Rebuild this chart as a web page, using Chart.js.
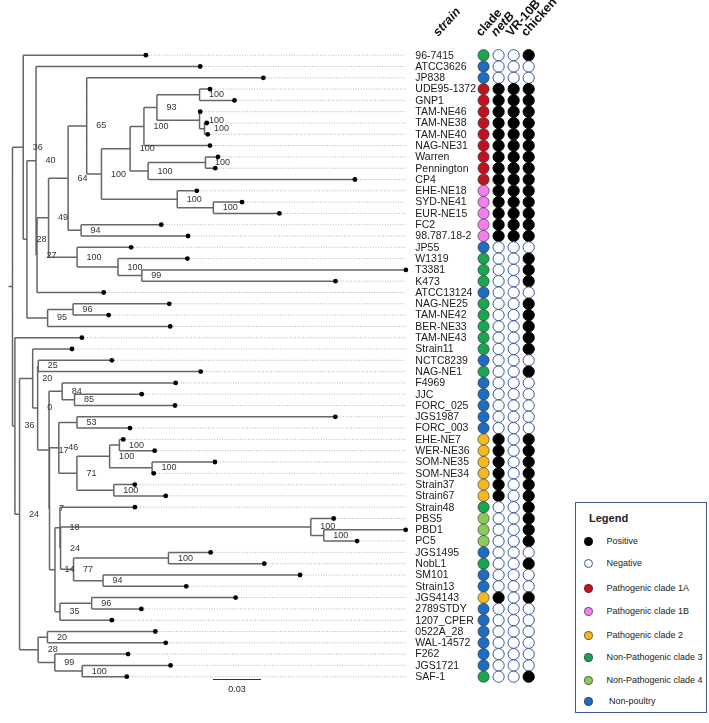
<!DOCTYPE html>
<html>
<head>
<meta charset="utf-8">
<script src="https://cdn.jsdelivr.net/npm/chart.js@4.4.1/dist/chart.umd.min.js"></script>
<style>
  html, body { margin:0; padding:0; background:#fff; }
  #wrap { position:relative; width:709px; height:723px; overflow:hidden; }
  #c { position:absolute; left:0; top:0; }
  #legend { position:absolute; left:575px; top:502px; width:132px; height:211px; box-sizing:border-box;
            border:1px solid #3c5b96; background:#fff; font-family:"Liberation Sans", Arial, sans-serif; color:#222; }
  #legend .title { position:absolute; left:13px; top:9px; font-size:11px; font-weight:bold; }
  #legend .dot { position:absolute; width:9px; height:9px; border-radius:50%; box-sizing:border-box; }
  #legend .txt { position:absolute; white-space:nowrap; font-size:9px; line-height:12px; }
</style>
</head>
<body>
<div id="wrap">
  <canvas id="c" width="709" height="723"></canvas>
  <div id="legend"></div>
</div>
<script>
// ---------------- DATA ----------------
const strains = ['96-7415','ATCC3626','JP838','UDE95-1372','GNP1','TAM-NE46','TAM-NE38','TAM-NE40','NAG-NE31',
  'Warren','Pennington','CP4','EHE-NE18','SYD-NE41','EUR-NE15','FC2','98.787.18-2','JP55','W1319','T3381','K473',
  'ATCC13124','NAG-NE25','TAM-NE42','BER-NE33','TAM-NE43','Strain11','NCTC8239','NAG-NE1','F4969','JJC','FORC_025',
  'JGS1987','FORC_003','EHE-NE7','WER-NE36','SOM-NE35','SOM-NE34','Strain37','Strain67','Strain48','PBS5','PBD1',
  'PC5','JGS1495','NobL1','SM101','Strain13','JGS4143','2789STDY','1207_CPER','0522A_28','WAL-14572','F262',
  'JGS1721','SAF-1'];

const clade = ['3','NP','NP','1A','1A','1A','1A','1A','1A','1A','1A','1A','1B','1B','1B','1B','1B','NP','3','3','3',
  'NP','3','3','3','3','3','NP','3','NP','NP','NP','NP','NP','2','2','2','2','2','2','3','4','4','4','NP','3','NP',
  'NP','2','NP','NP','NP','NP','NP','NP','3'];

const netB = [0,0,0,1,1,1,1,1,1,1,1,1,1,1,1,1,1,0,0,0,0,0,0,0,0,0,0,0,0,0,0,0,0,0,1,1,1,1,1,1,0,0,0,0,0,0,0,0,1,0,0,0,0,0,0,0];
const vr10b = [0,0,0,1,1,1,1,1,1,1,1,1,1,1,1,1,1,0,0,0,0,0,0,0,0,0,0,0,0,0,0,0,0,0,0,0,0,0,0,0,0,0,0,0,0,0,0,0,0,0,0,0,0,0,0,0];
const chicken = [1,0,0,1,1,1,1,1,1,1,1,1,1,1,1,1,1,0,1,1,1,0,1,1,1,1,1,0,1,0,0,0,0,0,1,1,1,1,1,1,1,1,1,1,0,1,0,0,1,0,0,0,0,0,0,1];

const columnHeaders = ['clade','netB','VR-10B','chicken'];
const strainHeader = 'strain';

const legendLabels = ['Positive','Negative','Pathogenic clade 1A','Pathogenic clade 1B','Pathogenic clade 2',
  'Non-Pathogenic clade 3','Non-Pathogenic clade 4','Non-poultry'];
const legendKeys = ['pos','neg','1A','1B','2','3','4','NP'];

const scaleBarValue = 0.03;

// Phylogeny (Newick with bootstrap support values)
const treeNewick = [
 '((96-7415:0.0765,((ATCC3626:0.1024,((((JP838:0.1102,(((((UDE95-1372:0.0065,GNP1:0.0218)100:0.0266,',
 '(TAM-NE46:0.0004,(TAM-NE38:0.0014,TAM-NE40:0.0020)100:0.0031)100:0.0266)93:0.0081,NAG-NE31:0.0412)100:0.0086,',
 '((Warren:0.0078,Pennington:0.0061)100:0.0358,CP4:0.1290)100:0.0112)100:0.0179,',
 '(EHE-NE18:0.0122,(SYD-NE41:0.0179,EUR-NE15:0.0412)100:0.0225)100:0.0473)100:0.0092)65:0.0116,',
 '(FC2:0.0500,98.787.18-2:0.0667)94:0.0081)64:0.0122,',
 '(JP55:0.0337,(W1319:0.0433,(T3381:0.1647,K473:0.1208)99:0.0149)100:0.0255)100:0.0178)49:0.0072,',
 'ATCC13124:0.0416)27:0.0006)40:0.0057,',
 '((NAG-NE25:0.0600,TAM-NE42:0.0222)96:0.0159,BER-NE33:0.0765)95:0.0129)28:0.0023)36:0.0067,',
 '(TAM-NE43:0.0418,((Strain11:0.0245,((NCTC8239:0.0459,NAG-NE1:0.1013)25:0.0004,',
 '((F4969:0.0708,(JJC:0.0419,FORC_025:0.0627)85:0.0077)84:0.0082,',
 '(((JGS1987:0.1612,FORC_003:0.0331)53:0.0113,',
 '(((EHE-NE7:0.0024,WER-NE36:0.0220)100:0.0061,(SOM-NE35:0.0392,SOM-NE34:0.0010)100:0.0265)100:0.0204,',
 '(Strain37:0.0131,Strain67:0.0324)100:0.0230)71:0.0113)46:0.0058,',
 '((Strain48:0.0468,((PBS5:0.0143,(PBD1:0.0511,PC5:0.0208)100:0.0081)100:0.1561,',
 '((JGS1495:0.0263,NobL1:0.0598)100:0.0592,(SM101:0.1229,Strain13:0.0519)94:0.0184)77:0.0081)24:0.0004)18:0.0031,',
 '((JGS4143:0.0898,2789STDY:0.0310)96:0.0198,1207_CPER:0.0324)35:0.0031)14:0.0034)7:0.0003)17:0.0071)0:0.0031)20:0.0082,',
 '((0522A_28:0.0673,WAL-14572:0.0738)20:0.0058,(F262:0.0457,(JGS1721:0.0551,SAF-1:0.0278)100:0.0171)99:0.0104)28:0.0116',
 ')24:0.0029)36:0.0015);'
].join('');

// ---------------- STYLE / LAYOUT ----------------
const W = 709, H = 723;
const X_ROOT_PX = 6, PX_PER_UNIT = 1633.3;
const ROW0_PX = 49.5, ROW_PX = 11.51;
const COL0_PX = 486, COL_PX = 15.33;
const ROOT_STUB = 0.0025;
const FONT = '"Liberation Sans", Arial, Helvetica, sans-serif';
const CLADE_COLORS = { '1A':'#c1121f', '1B':'#f47ef0', '2':'#f5b820', '3':'#18a64f', '4':'#8acb5c', 'NP':'#1d6ec3' };
const POS_COLOR = '#000000', NEG_FILL = '#ffffff', NEG_BORDER = '#37569f';
const legendRowCenters = [38.5, 60.5, 85, 108, 132, 154, 177, 198];

// ---------------- TREE PARSING / LAYOUT ----------------
function parseNewick(str) {
  const s = str.replace(/\s+/g, '');
  let i = 0;
  function node() {
    const n = { children: [], name: '', support: '', len: 0 };
    if (s[i] === '(') {
      i++;
      n.children.push(node());
      while (s[i] === ',') { i++; n.children.push(node()); }
      i++; // ')'
    }
    let lab = '';
    while (i < s.length && !',():;'.includes(s[i])) lab += s[i++];
    if (n.children.length) n.support = lab; else n.name = lab;
    if (s[i] === ':') {
      i++;
      let num = '';
      while (i < s.length && !',();'.includes(s[i])) num += s[i++];
      n.len = parseFloat(num);
    }
    return n;
  }
  return node();
}
const tree = parseNewick(treeNewick);
function place(n, px) {
  n.x = px + n.len;
  if (!n.children.length) n.y = strains.indexOf(n.name);
  else {
    n.children.forEach(c => place(c, n.x));
    n.y = (n.children[0].y + n.children[n.children.length - 1].y) / 2;
  }
}
place(tree, 0);

const GAP = { x: NaN, y: NaN };
const branchPts = [], leafPts = [], supports = [];
function collect(n, parentX) {
  if (parentX !== null) branchPts.push({ x: parentX, y: n.y }, { x: n.x, y: n.y }, GAP);
  if (n.children.length) {
    branchPts.push({ x: n.x, y: n.children[0].y }, { x: n.x, y: n.children[n.children.length - 1].y }, GAP);
    if (n.support !== '') supports.push({ x: n.x, y: n.y, t: n.support });
    n.children.forEach(c => collect(c, n.x));
  } else {
    leafPts.push({ x: n.x, y: n.y });
  }
}
collect(tree, null);
branchPts.push({ x: tree.x - ROOT_STUB, y: tree.y }, { x: tree.x, y: tree.y }, GAP);
const maxLeafX = Math.max(...leafPts.map(p => p.x));
const leaderPts = [];
leafPts.forEach(p => leaderPts.push({ x: p.x, y: p.y }, { x: maxLeafX, y: p.y }, GAP));

// ---------------- CIRCLE COLUMNS ----------------
function binColumn(vals, col) {
  return {
    xAxisID: 'xc', data: vals.map((v, i) => ({ x: col, y: i })),
    pointRadius: 5.6, pointHoverRadius: 5.6,
    pointBackgroundColor: vals.map(v => v ? POS_COLOR : NEG_FILL),
    pointBorderColor: vals.map(v => v ? POS_COLOR : NEG_BORDER),
    pointBorderWidth: 1, showLine: false, order: 0
  };
}
const cladeDataset = {
  xAxisID: 'xc', data: clade.map((c, i) => ({ x: 0, y: i })),
  pointRadius: 5.6, pointHoverRadius: 5.6,
  pointBackgroundColor: clade.map(c => CLADE_COLORS[c]),
  pointBorderColor: 'rgba(40,40,40,0.75)', pointBorderWidth: 0.8, showLine: false, order: 0
};

// ---------------- TEXT PLUGIN ----------------
const textLayer = {
  id: 'textLayer',
  afterDatasetsDraw(chart) {
    const { ctx } = chart;
    const xs = chart.scales.x, ys = chart.scales.y, xc = chart.scales.xc;
    ctx.save();
    // bootstrap values
    ctx.font = '9px ' + FONT;
    ctx.fillStyle = '#333';
    ctx.textAlign = 'left';
    ctx.textBaseline = 'middle';
    supports.forEach(s => ctx.fillText(s.t, xs.getPixelForValue(s.x) + 9.5, ys.getPixelForValue(s.y)));
    // strain labels
    const labelX = xs.getPixelForValue(maxLeafX) + 9.5;
    ctx.font = '10.5px ' + FONT;
    ctx.fillStyle = '#1a1a1a';
    strains.forEach((s, i) => ctx.fillText(s, labelX, ys.getPixelForValue(i) + 0.5));
    // headers
    ctx.fillStyle = '#111';
    ctx.textBaseline = 'alphabetic';
    const ang = -48 * Math.PI / 180;
    const drawHeader = (t, x, italic) => {
      ctx.save();
      ctx.translate(x, 37);
      ctx.rotate(ang);
      ctx.font = (italic ? 'italic ' : '') + 'bold 12.5px ' + FONT;
      ctx.fillText(t, 0, 0);
      ctx.restore();
    };
    drawHeader(strainHeader, labelX + 23, true);
    columnHeaders.forEach((t, c) => drawHeader(t, xc.getPixelForValue(c) - 2.5, t === 'netB'));
    // scale bar
    const len = xs.getPixelForValue(scaleBarValue) - xs.getPixelForValue(0);
    const sbLeft = 213, sbY = 679.5;
    ctx.strokeStyle = '#333';
    ctx.lineWidth = 1;
    ctx.beginPath(); ctx.moveTo(sbLeft, sbY); ctx.lineTo(sbLeft + len, sbY); ctx.stroke();
    ctx.font = '9px ' + FONT;
    ctx.fillStyle = '#222';
    ctx.textAlign = 'center';
    ctx.textBaseline = 'middle';
    ctx.fillText(String(scaleBarValue), sbLeft + len / 2, sbY + 10);
    ctx.restore();
  }
};

// ---------------- CHART ----------------
new Chart(document.getElementById('c'), {
  type: 'scatter',
  data: {
    datasets: [
      { data: leafPts, pointRadius: 2.4, pointHoverRadius: 2.4, pointBackgroundColor: '#000', pointBorderWidth: 0,
        showLine: false, order: 1 },
      { data: branchPts, showLine: true, spanGaps: false, pointRadius: 0, pointHoverRadius: 0,
        borderColor: '#666', borderWidth: 1.5, borderCapStyle: 'butt', order: 2 },
      { data: leaderPts, showLine: true, spanGaps: false, pointRadius: 0, pointHoverRadius: 0,
        borderColor: '#b4b4b4', borderWidth: 1, borderDash: [1, 1.6], order: 3 },
      cladeDataset,
      binColumn(netB, 1),
      binColumn(vr10b, 2),
      binColumn(chicken, 3)
    ]
  },
  options: {
    responsive: false, animation: false, events: [],
    layout: { padding: 0 },
    plugins: { legend: { display: false }, tooltip: { enabled: false } },
    scales: {
      x: { type: 'linear', display: false, bounds: 'data',
           min: -X_ROOT_PX / PX_PER_UNIT, max: (W - X_ROOT_PX) / PX_PER_UNIT },
      xc: { type: 'linear', axis: 'x', display: false, bounds: 'data',
            min: -COL0_PX / COL_PX, max: (W - COL0_PX) / COL_PX },
      y: { type: 'linear', display: false, reverse: true, bounds: 'data',
           min: -ROW0_PX / ROW_PX, max: (H - ROW0_PX) / ROW_PX }
    }
  },
  plugins: [textLayer]
});

// ---------------- LEGEND (HTML) ----------------
const lg = document.getElementById('legend');
const title = document.createElement('div');
title.className = 'title'; title.textContent = 'Legend';
lg.appendChild(title);
legendLabels.forEach((lab, i) => {
  const k = legendKeys[i];
  const cy = legendRowCenters[i];
  const d = document.createElement('div');
  d.className = 'dot';
  d.style.left = '8px'; d.style.top = (cy - 4.5) + 'px';
  if (k === 'pos') { d.style.background = POS_COLOR; }
  else if (k === 'neg') { d.style.background = NEG_FILL; d.style.border = '1px solid ' + NEG_BORDER; }
  else { d.style.background = CLADE_COLORS[k]; d.style.border = '0.8px solid rgba(40,40,40,0.6)'; }
  lg.appendChild(d);
  const t = document.createElement('div');
  t.className = 'txt';
  t.style.left = (k === 'NP' ? 33 : 30.5) + 'px';
  t.style.top = (cy - 6.5) + 'px';
  t.textContent = lab;
  lg.appendChild(t);
});
</script>
</body>
</html>
